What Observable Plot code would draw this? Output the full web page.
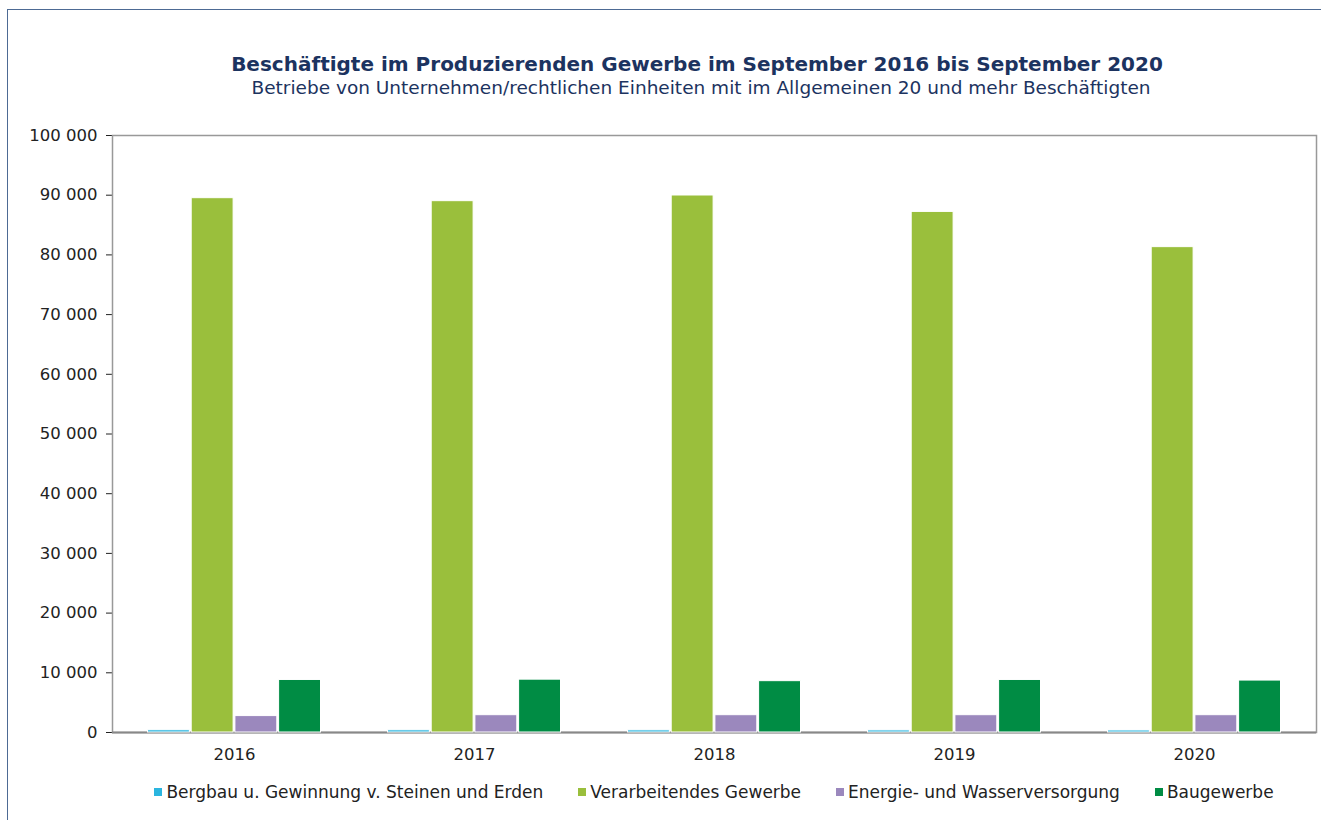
<!DOCTYPE html>
<html>
<head>
<meta charset="utf-8">
<script src="https://cdn.jsdelivr.net/npm/d3@7"></script>
<script src="https://cdn.jsdelivr.net/npm/@observablehq/plot@0.6"></script>
<style>
  html, body { margin: 0; padding: 0; background: #fff; overflow: hidden; }
  body { width: 1321px; height: 820px; position: relative; font-family: "DejaVu Sans", Verdana, sans-serif; }
  #border { position: absolute; left: 7px; top: 9px; width: 1400px; height: 900px; border: 1.5px solid #4d6a94; box-sizing: border-box; }
  #title { position: absolute; left: 97px; width: 1200px; top: 52px; text-align: center; font-weight: bold; font-size: 20px; color: #1c3360; line-height: 24px; }
  #subtitle { position: absolute; left: 101px; width: 1200px; top: 77px; text-align: center; font-size: 18.5px; color: #1c3360; line-height: 22px; }
  #chart { position: absolute; left: 0; top: 110px; }
  #legend { position: absolute; left: 112px; width: 1204px; top: 781px; display: flex; justify-content: center; gap: 35px; font-size: 17px; color: #222; line-height: 22px; }
  #legend .item { display: flex; align-items: center; white-space: nowrap; }
  #legend .sw { width: 8px; height: 8px; margin-right: 4px; display: inline-block; }
</style>
</head>
<body>
<div id="border"></div>
<div id="title">Beschäftigte im Produzierenden Gewerbe im September 2016 bis September 2020</div>
<div id="subtitle">Betriebe von Unternehmen/rechtlichen Einheiten mit im Allgemeinen 20 und mehr Beschäftigten</div>
<div id="chart"></div>
<div id="legend"></div>
<script>
const years = ["2016", "2017", "2018", "2019", "2020"];
const seriesNames = [
  "Bergbau u. Gewinnung v. Steinen und Erden",
  "Verarbeitendes Gewerbe",
  "Energie- und Wasserversorgung",
  "Baugewerbe"
];
const bergbau = [380, 370, 360, 350, 340];
const verarbeitendes = [89500, 89000, 89950, 87200, 81300];
const energie = [2750, 2900, 2900, 2900, 2900];
const baugewerbe = [8800, 8850, 8600, 8800, 8700];
const seriesColors = ["#2bb5df", "#9abf3c", "#9b88bd", "#008c44"];
const yTicks = [0, 10000, 20000, 30000, 40000, 50000, 60000, 70000, 80000, 90000, 100000];

const seriesValues = [bergbau, verarbeitendes, energie, baugewerbe];
const rows = [];
seriesNames.forEach((s, i) => years.forEach((y, j) => rows.push({year: y, series: s, idx: i, value: seriesValues[i][j]})));

const fmt = d3.formatLocale({decimal: ",", thousands: " ", grouping: [3], currency: ["", "€"]}).format(",d");

const W = 1321, mL = 112, mR = 5;
const band = (W - mL - mR) / years.length;
const outer = 33;
const slot = (band - 2 * outer) / seriesNames.length;

const barMarks = seriesNames.map((s, i) => Plot.barY(rows.filter(r => r.idx === i), {
  x: "year", y: "value", fill: seriesColors[i],
  stroke: "white", strokeWidth: 1,
  insetLeft: outer + i * slot + 0.5,
  insetRight: band - (outer + (i + 1) * slot) + 0.5
}));

const chart = Plot.plot({
  width: W, height: 672,
  marginTop: 25, marginBottom: 50, marginLeft: mL, marginRight: mR,
  style: {fontFamily: "DejaVu Sans, Verdana, sans-serif", fontSize: "16.5px", color: "#222", background: "transparent"},
  x: {domain: years, padding: 0, tickSize: 0, tickPadding: 16, label: null},
  y: {domain: [0, 100000], ticks: yTicks, tickFormat: fmt, tickSize: 6, tickPadding: 9, label: null, line: true},
  marks: [
    Plot.frame({stroke: "#999", strokeWidth: 1.5}),
    Plot.ruleY([0], {stroke: "#888", strokeWidth: 2}),
    ...barMarks
  ]
});
document.getElementById("chart").appendChild(chart);

const legend = document.getElementById("legend");
seriesNames.forEach((s, i) => {
  const it = document.createElement("div");
  it.className = "item";
  const sw = document.createElement("span");
  sw.className = "sw";
  sw.style.background = seriesColors[i];
  it.appendChild(sw);
  it.appendChild(document.createTextNode(s));
  legend.appendChild(it);
});
</script>
</body>
</html>
